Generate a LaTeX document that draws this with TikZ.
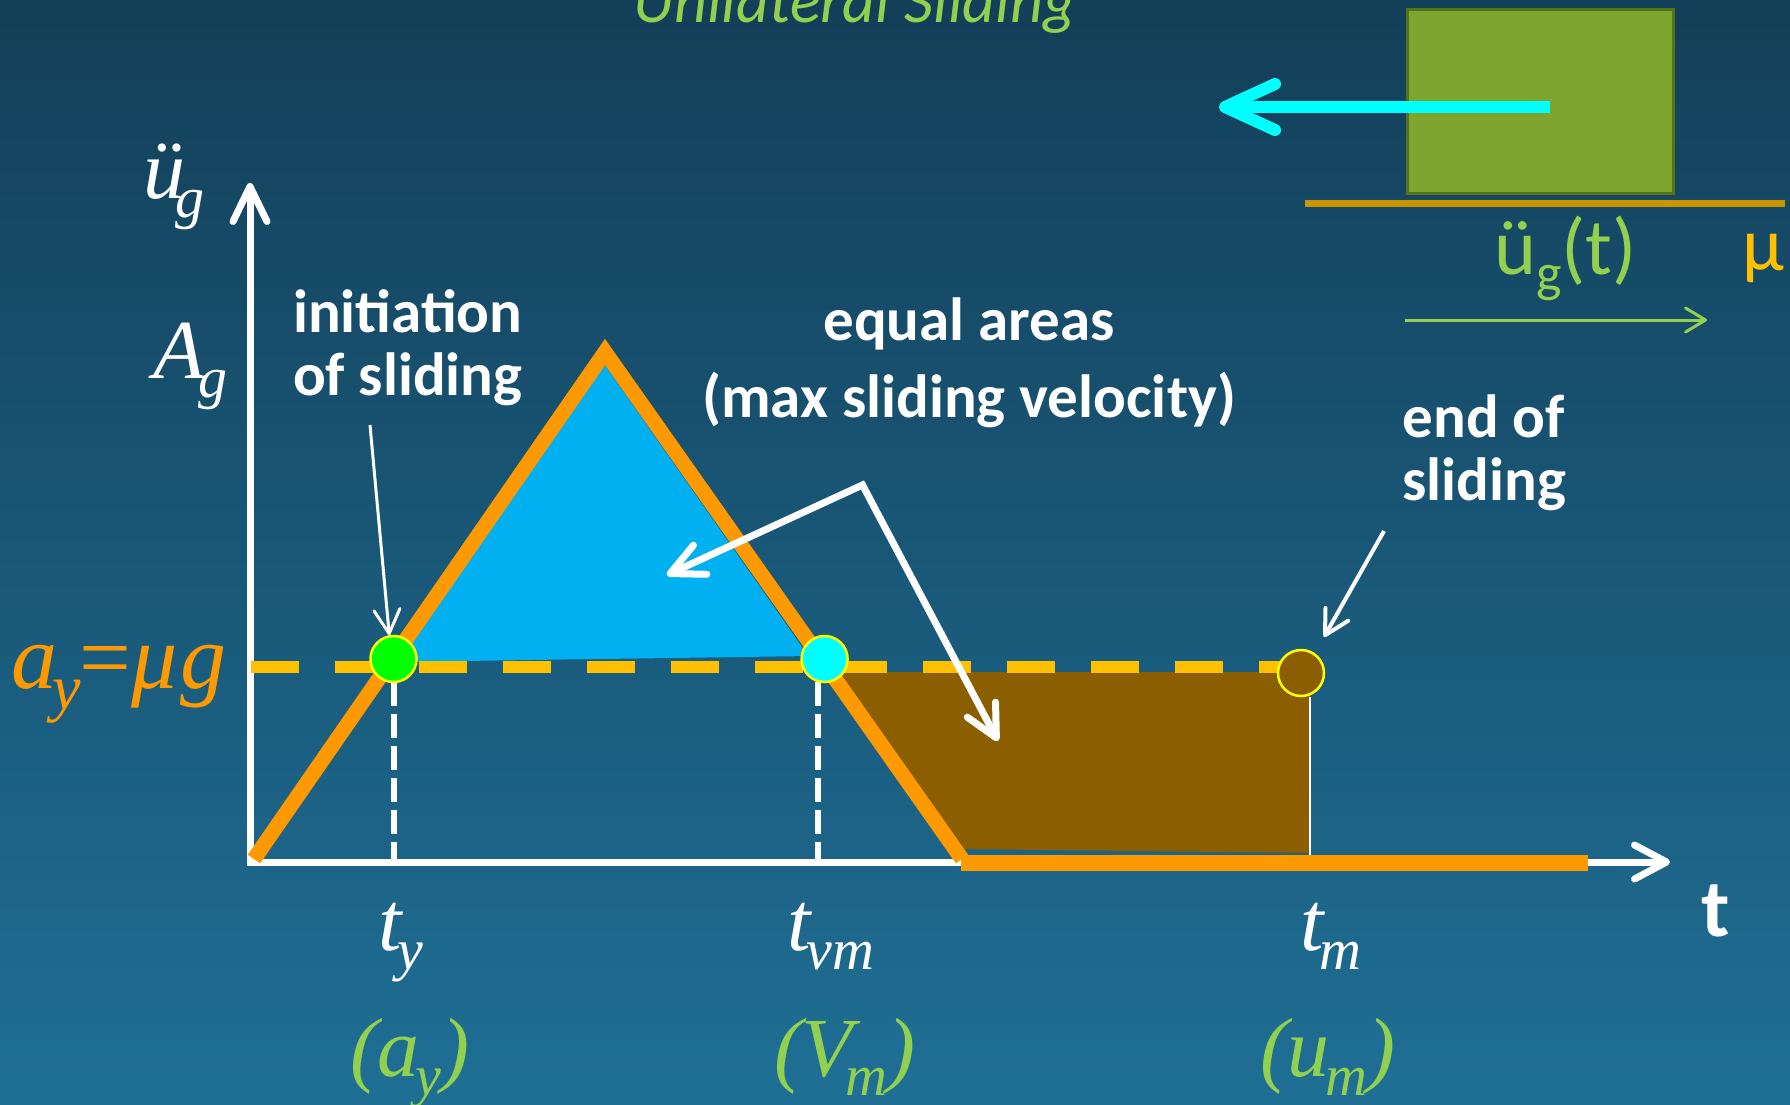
\documentclass[tikz,border=0pt]{standalone}
\usepackage{fontspec}
\setmainfont{Carlito}
\newfontfamily\tnr{Liberation Serif}
\usetikzlibrary{arrows.meta}
\definecolor{bgtop}{HTML}{133F58}
\definecolor{bgbot}{HTML}{1F6F95}
\definecolor{orangec}{HTML}{FF9900}
\definecolor{yellowc}{HTML}{FFC000}
\definecolor{bluec}{HTML}{00B0F0}
\definecolor{cyanc}{RGB}{0,255,255}
\definecolor{greenc}{RGB}{0,255,0}
\definecolor{dotedge}{RGB}{255,255,0}
\definecolor{brownc}{RGB}{139,94,0}
\definecolor{lgreen}{HTML}{92D050}
\definecolor{boxgreen}{HTML}{7EA62E}
\definecolor{boxedge}{HTML}{55731C}
\definecolor{groundc}{HTML}{C89600}
\definecolor{edgeblue}{HTML}{124A66}
\newcommand{\subx}[1]{\raisebox{-19pt}{\fontsize{58}{58}\selectfont #1}}
\begin{document}
\begin{tikzpicture}[x=1pt,y=-1pt,
  txt/.style={text=white, inner sep=0pt, outer sep=0pt, font=\bfseries\fontsize{61}{63}\selectfont},
  mathlbl/.style={text=white, inner sep=0pt, outer sep=0pt, font=\tnr\itshape\fontsize{84}{84}\selectfont},
  dot/.style={circle, minimum size=46pt, inner sep=0pt, draw=dotedge, line width=2.5pt},
  ptr/.style={draw=white, line width=3pt, -{Straight Barb[length=24pt,width=26pt,round]}},
  bigptr/.style={draw=white, line width=7pt, line join=miter},
]
\useasboundingbox (0,0) rectangle (1790,1104);
\clip (0,0) rectangle (1790,1104);
\shade[top color=bgtop, bottom color=bgbot] (0,0) rectangle (1790,1104);

% title (cut off at top)
\node[anchor=base west, inner sep=0pt, text=lgreen, font=\itshape\fontsize{64}{64}\selectfont] (title) at (633,22) {Unilateral Sliding};

% sliding block sketch
\node[draw=boxedge, fill=boxgreen, line width=3pt, minimum width=266pt, minimum height=184pt, inner sep=0pt, anchor=north west] (block) at (1406,8) {};
\coordinate (g1) at (1305,203.5);
\coordinate (g2) at (1785,203.5);
\draw[groundc, line width=7pt] (g1) -- (g2);
\coordinate (cyS) at (1550,107);
\coordinate (cyT) at (1219,107);
\draw[cyanc, line width=12pt, -{Straight Barb[length=50pt,width=46pt,round]}] (cyS) -- (cyT);
\node[anchor=base west, inner sep=0pt, text=lgreen, font=\fontsize{80}{80}\selectfont] (ugt) at (1494,274) {ü\raisebox{-17pt}{\fontsize{54}{54}\selectfont g}(t)};
\node[anchor=base west, inner sep=0pt, text=yellowc, font=\fontsize{76}{76}\selectfont] (mu) at (1742,270) {µ};
\coordinate (gaS) at (1405,320);
\coordinate (gaT) at (1707,320);
\draw[lgreen, line width=3pt, -{Straight Barb[length=20pt,width=24pt,round]}] (gaS) -- (gaT);

% areas
\fill[bluec] (604,356) -- (392,662) -- (810,656) -- cycle;
\draw[edgeblue, line width=2pt] (604,362) -- (810,656);
\fill[brownc] (824,672) -- (1310,672) -- (1310,853) -- (958,849) -- cycle;
\coordinate (wl1) at (1310,697);
\coordinate (wl2) at (1310,856);
\draw[white, line width=2.5pt] (wl1) -- (wl2);

% axes
\coordinate (O) at (250,862);
\coordinate (ytip) at (250,183);
\coordinate (xtip) at (1670,862);
\draw[white, line width=7pt, {Straight Barb[length=35pt,width=34pt,round]}-{Straight Barb[length=32pt,width=34pt,round]}] (ytip) -- (O) -- (xtip);

% ground acceleration pulse
\draw[orangec, line width=15pt] (254,859) -- (605,352) -- (962,859);
\draw[orangec, line width=16pt] (961,863) -- (1588,863);

% dashed lines
\draw[yellowc, line width=12pt, dash pattern=on 48pt off 36pt] (251,667) -- (1285,667);
\draw[white, line width=6pt, dash pattern=on 24pt off 8pt] (393.5,682) -- (393.5,860);
\draw[white, line width=6pt, dash pattern=on 24pt off 8pt] (817.6,682) -- (817.6,860);

% dots
\node[dot, fill=greenc] (gdot) at (393.5,659) {};
\node[dot, fill=cyanc] (cdot) at (824.6,659) {};
\node[dot, fill=brownc] (bdot) at (1301,673) {};

% labels
\node[mathlbl, anchor=base west] (ulab) at (143,198) {ü\kern-10pt\subx{g}};
\node[mathlbl, anchor=base west] (Alab) at (153,378) {A\kern-6pt\subx{g}};
\node[mathlbl, text=orangec, anchor=base west, font=\tnr\itshape\fontsize{92}{92}\selectfont] (aylab) at (12,688) {a\kern-6pt\raisebox{-21pt}{\fontsize{64}{64}\selectfont y}\kern-1pt{\upshape=}μ\kern3pt g};
\node[mathlbl, anchor=base west] (ty) at (378,950) {t\kern-4pt\subx{y}};
\node[mathlbl, anchor=base west] (tvm) at (787,950) {t\kern-4pt\subx{vm}};
\node[mathlbl, anchor=base west] (tm) at (1300,950) {t\kern-4pt\subx{m}};
\node[mathlbl, text=lgreen, anchor=base west] (pay) at (350,1076) {(a\kern-4pt\subx{y})};
\node[mathlbl, text=lgreen, anchor=base west] (pvm) at (774,1076) {(V\kern-8pt\subx{m})};
\node[mathlbl, text=lgreen, anchor=base west] (pum) at (1260,1076) {(u\kern-4pt\subx{m})};
\node[anchor=base west, inner sep=0pt, text=white, font=\bfseries\fontsize{82}{82}\selectfont] (tlab) at (1701,936) {t};

% multi-line texts: base anchor = baseline of last line
\node[txt, anchor=base west, align=left] (init) at (293,395) {initiation\\of sliding};
\node[txt, anchor=base, align=center, font=\bfseries\fontsize{61}{77}\selectfont] (eq) at (969,417) {equal areas\\(max sliding velocity)};
\node[txt, anchor=base, align=center] (endsl) at (1484,500) {end of\\sliding};

% pointers
\coordinate (initS) at (370,425);
\draw[ptr] (initS) -- (gdot.100);
\coordinate (eqV) at (862.5,485);
\coordinate (eqT1) at (667,575);
\coordinate (eqT2) at (998,741);
\draw[bigptr, {Straight Barb[length=33pt,width=32pt,round]}-{Straight Barb[length=32pt,width=32pt,round]}] (eqT1) -- (eqV) -- (eqT2);
\coordinate (endS) at (1384,531);
\coordinate (endT) at (1324,637);
\draw[ptr, line width=4pt] (endS) -- (endT);
\end{tikzpicture}
\end{document}
